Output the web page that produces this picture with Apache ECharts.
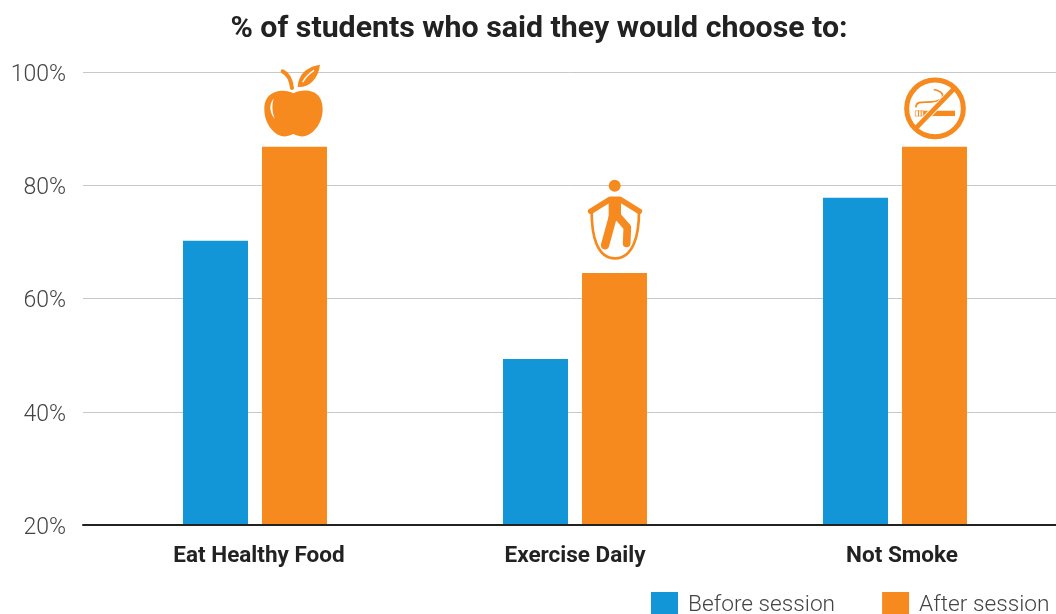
<!DOCTYPE html>
<html><head><meta charset="utf-8">
<script src="https://cdn.jsdelivr.net/npm/echarts@6/dist/echarts.min.js"></script>
<style>html,body{margin:0;padding:0;background:#fff;overflow:hidden}#c{width:1056px;height:614px}</style>
</head><body><div id="c"></div>
<script>
const categories = ['Eat Healthy Food', 'Exercise Daily', 'Not Smoke'];
const beforeSession = [70.2, 49.3, 77.8];
const afterSession = [86.8, 64.5, 86.8];
const yTicks = { min: 20, max: 100, step: 20 };

const BLUE = '#1296d8', ORANGE = '#f68a1f';

// Icon drawings in a 3x local space; (ax, ay) is the spot that sits on the bar's top centre.
function p(d, x, y, w, h, style) {
  return { type: 'path', shape: { pathData: d, layout: 'cover', x, y, width: w, height: h }, style };
}
const fillO = { fill: ORANGE }, fillW = { fill: '#fff' };
const strokeO = w => ({ fill: 'none', stroke: ORANGE, lineWidth: w, lineCap: 'round', lineJoin: 'round' });
const icons = [
  { ax: 193.5, ay: 276, items: [
    p('M190 118C215 105 278 100 278 165C278 210 245 245 215 245C205 245 197 240 190 238C183 240 175 245 165 245C135 245 103 210 103 165C103 105 165 105 190 118Z', 103, 107, 175, 138, fillO),
    p('M131 132C118 145 116 170 134 192C125 165 126 150 131 132Z', 121, 132, 13, 60, fillW),
    p('M158 50C175 58 183 75 186 100', 158, 50, 28, 50, strokeO(12)),
    p('M270 30C235 35 205 55 203 96C240 98 265 70 270 30Z', 203, 30, 67, 67, fillO),
    p('M218 82C226 68 238 56 252 47', 218, 47, 34, 35, { fill: 'none', stroke: '#fff', lineWidth: 4 })
  ]},
  { ax: 133.5, ay: 309, items: [
    { type: 'circle', shape: { cx: 134, cy: 47, r: 18 }, style: fillO },
    p('M65 125C65 195 80 265 135 265C190 265 207 195 207 125', 65, 125, 142, 140, strokeO(8)),
    p('M62 124L120 88L150 88L208 124', 62, 88, 146, 36, strokeO(17)),
    { type: 'rect', shape: { x: 116, y: 82, width: 37, height: 70 }, style: fillO },
    p('M130 135L105 226', 105, 135, 25, 91, strokeO(25)),
    p('M142 138L172 172L170 220', 142, 138, 30, 82, strokeO(23))
  ]},
  { ax: 133.5, ay: 246, items: [
    { type: 'rect', shape: { x: 76, y: 138, width: 24, height: 16 }, style: { fill: 'none', stroke: ORANGE, lineWidth: 2 } },
    { type: 'rect', shape: { x: 84, y: 138, width: 3, height: 16 }, style: fillO },
    { type: 'rect', shape: { x: 92, y: 138, width: 3, height: 16 }, style: fillO },
    { type: 'rect', shape: { x: 100, y: 138, width: 95, height: 16 }, style: fillO },
    p('M78 126C78 100 125 122 150 104C165 92 152 78 132 75', 78, 75, 80, 51, strokeO(5)),
    { type: 'line', shape: { x1: 72, y1: 196, x2: 198, y2: 66 }, style: { stroke: '#fff', lineWidth: 19 } },
    { type: 'line', shape: { x1: 72, y1: 196, x2: 198, y2: 66 }, style: { stroke: ORANGE, lineWidth: 14 } },
    { type: 'circle', shape: { cx: 135, cy: 131, r: 85 }, style: { fill: 'none', stroke: ORANGE, lineWidth: 15 } }
  ]}
];

const lightText = { color: '#444', fontFamily: 'Roboto', fontWeight: 300 };
const chart = echarts.init(document.getElementById('c'), null, { renderer: 'canvas' });
const catLabel = { fontFamily: 'Roboto', fontWeight: 700, fontSize: 22.5, color: '#222' };
chart.setOption({
  backgroundColor: '#fff',
  animation: false,
  title: { text: '% of students who said they would choose to:', left: 534, top: 9, textAlign: 'center',
    textStyle: { color: '#222', fontFamily: 'Roboto', fontWeight: 700, fontSize: 30.3 } },
  legend: { left: 651, top: 592, width: 405, padding: 0, itemWidth: 27, itemHeight: 27, itemGap: 47, icon: 'rect',
    data: ['Before session', 'After session'],
    textStyle: { ...lightText, fontSize: 22.7, padding: [1, 0, 0, 5] } },
  grid: [
    { left: 83, right: 0, top: 72, bottom: 89 },
    { left: 95, right: 1, top: 72, bottom: 89 }
  ],
  xAxis: [
    { type: 'category', gridIndex: 0, data: [''], axisLine: { lineStyle: { color: '#222', width: 2 } }, axisTick: { show: false }, axisLabel: { show: false }, z: 5 },
    { type: 'category', gridIndex: 1, data: categories, axisLine: { show: false }, axisTick: { show: false },
      axisLabel: { margin: 20, ...catLabel,
        formatter: (v, i) => '{k' + i + '|' + v + '}',
        rich: {
          k0: { ...catLabel, padding: [0, 0, 0, 8] },
          k1: { ...catLabel },
          k2: { ...catLabel, padding: [0, 0, 0, 14] }
        } } }
  ],
  yAxis: [
    { type: 'value', gridIndex: 0, min: yTicks.min, max: yTicks.max, interval: yTicks.step,
      axisLine: { show: false }, axisTick: { show: false },
      axisLabel: { ...lightText, fontSize: 23, margin: 17, formatter: v => '{t|' + v + '%}',
        rich: { t: { ...lightText, fontSize: 23, padding: [6, 0, 0, 0] } } },
      splitLine: { lineStyle: { color: '#c8c8c8', width: 1 } } },
    { type: 'value', gridIndex: 1, min: yTicks.min, max: yTicks.max, interval: yTicks.step, show: false, splitLine: { show: false } }
  ],
  series: [
    { name: 'Before session', type: 'bar', xAxisIndex: 1, yAxisIndex: 1, data: beforeSession, barWidth: 65, barGap: '21.5%', itemStyle: { color: BLUE } },
    { name: 'After session', type: 'bar', xAxisIndex: 1, yAxisIndex: 1, data: afterSession, barWidth: 65, barGap: '21.5%', itemStyle: { color: ORANGE } },
    { name: 'icons', type: 'custom', xAxisIndex: 1, yAxisIndex: 1, z: 6, silent: true, clip: false,
      data: categories.map((c, i) => [i, afterSession[i]]),
      encode: { x: 0, y: 1 },
      renderItem(params, api) {
        const pos = api.coord([api.value(0), api.value(1)]);
        const ic = icons[params.dataIndex];
        return { type: 'group', x: pos[0] + 39.5 - ic.ax / 3, y: pos[1] - ic.ay / 3, scaleX: 1 / 3, scaleY: 1 / 3, children: ic.items };
      } }
  ]
});
</script></body></html>
